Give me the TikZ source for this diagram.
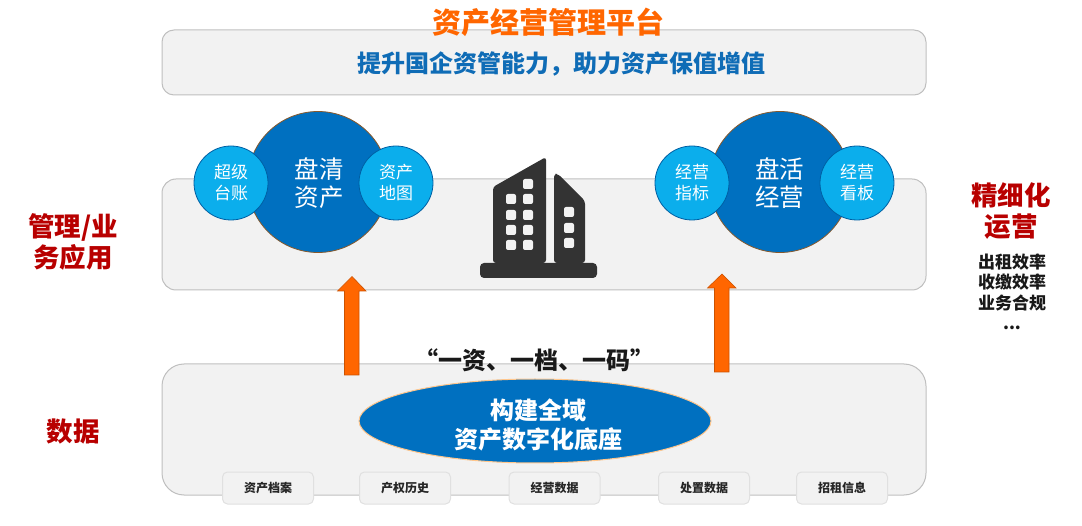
\documentclass[tikz,border=0pt]{standalone}
\usepackage{fontspec}
\usetikzlibrary{shapes.geometric}
\setmainfont{Noto Sans CJK SC}
\definecolor{panelfill}{HTML}{F2F2F2}
\definecolor{panelline}{HTML}{BFBFBF}
\definecolor{deepblue}{HTML}{0070C0}
\definecolor{lightblue}{HTML}{0BAEEC}
\definecolor{orangeA}{HTML}{FF6600}
\definecolor{textblue}{HTML}{0F6CB6}
\definecolor{darkred}{HTML}{B80000}
\definecolor{towergrey}{HTML}{333333}
\newcommand{\fsz}[2]{\fontsize{#1}{#2}\selectfont}
\tikzset{
  x=1pt,y=-1pt,
  panel/.style={draw=panelline,fill=panelfill,line width=1pt,rounded corners=#1,inner sep=0pt},
  tile/.style={draw=black!12,fill=panelfill,line width=1pt,rounded corners=5pt,minimum width=91pt,minimum height=32pt,inner sep=0pt,font=\fsz{12}{14}\bfseries,text=black!85},
  bigcirc/.style={circle,draw=brown!70!black,fill=deepblue,line width=.8pt,minimum size=141pt,inner sep=0pt},
  bigtext/.style={text=white,align=center,font=\fsz{24.5}{28}},
  smallcirc/.style={circle,draw=deepblue!85!black,fill=lightblue,line width=.8pt,minimum size=74pt,inner sep=0pt,text=white,align=center,font=\fsz{17}{21}},
  sidelabel/.style={text=darkred,align=center,font=\fsz{26.5}{31}\bfseries},
  uparrow/.style={fill=orangeA,draw=orangeA!80!black,line width=.6pt,line join=miter},
  win/.style={fill=panelfill,rounded corners=2pt},
}
\begin{document}
\begin{tikzpicture}
\useasboundingbox (0,0) rectangle (1082,526);
% panels
\node[panel=12pt,minimum width=764pt,minimum height=65pt] (top) at (544,62.5) {};
\node[panel=14pt,minimum width=764pt,minimum height=111pt] (mid) at (544,234.5) {};
\node[panel=22pt,minimum width=764pt,minimum height=131pt] (bot) at (544,429.5) {};
% titles
\node[text=orangeA,font=\fsz{29}{32}\bfseries] (title) at (548,22.5) {资产经营管理平台};
\node[text=textblue,font=\fsz{24}{28}\bfseries] (slogan) at (561,64) {提升国企资管能力，助力资产保值增值};
% left cluster
\node[bigcirc] (c1) at (318,182) {};
\node[bigtext] (c1t) at (319,183) {盘清\\资产};
\node[smallcirc] (s1) at (231,183) {超级\\台账};
\node[smallcirc] (s2) at (396,183) {资产\\地图};
% right cluster
\node[bigcirc] (c2) at (780,182) {};
\node[bigtext] (c2t) at (779.5,183) {盘活\\经营};
\node[smallcirc] (s3) at (692,183) {经营\\指标};
\node[smallcirc] (s4) at (857,183) {经营\\看板};
% building
\fill[towergrey,rounded corners=3pt] (493,263) -- (493,187) -- (546,157) -- (546,263) -- cycle;
\fill[towergrey,rounded corners=3pt] (554,263) -- (554,174) -- (558,174) -- (585,201) -- (585,263) -- cycle;
\fill[towergrey,rounded corners=4pt] (480,263) rectangle (597,278);
\foreach \wx/\wy in {528/184,511/199,528/199,511/215,528/215,511/230,528/230,511/245,528/245,569/212,569/228,569/243}
  \path[win] (\wx-5,\wy-5) rectangle (\wx+5,\wy+5);
% arrows
\draw[uparrow] (344.5,375) -- (344.5,291) -- (337.5,291) -- (352,276.5) -- (366,291) -- (359,291) -- (359,375) -- cycle;
\draw[uparrow] (714.5,372) -- (714.5,288) -- (707.5,288) -- (722,274) -- (736,288) -- (729,288) -- (729,372) -- cycle;
% data
\node[text=black!90,font=\fsz{24}{28}\bfseries] (quote) at (534,360) {“一资、一档、一码”};
\node[ellipse,draw=orange!45,fill=deepblue,line width=1pt,minimum width=352pt,minimum height=84pt,inner sep=0pt] (base) at (535,421) {};
\node[text=white,align=center,font=\fsz{24}{29}\bfseries] (baset) at (538.5,425) {构建全域\\资产数字化底座};
\node[tile] (t1) at (268,488) {资产档案};
\node[tile] (t2) at (405,488) {产权历史};
\node[tile] (t3) at (554.5,488) {经营数据};
\node[tile] (t4) at (704,488) {处置数据};
\node[tile] (t5) at (842,488) {招租信息};
% side labels
\node[sidelabel] (l1) at (73,242) {管理/业\\务应用};
\node[sidelabel] (l2) at (73,431) {数据};
\node[sidelabel] (l3) at (1011,211) {精细化\\运营};
\node[align=center,text=black!90,font=\fsz{17}{20.5}\bfseries] (l4) at (1012,292) {出租效率\\收缴效率\\业务合规\\...};
\end{tikzpicture}
\end{document}
